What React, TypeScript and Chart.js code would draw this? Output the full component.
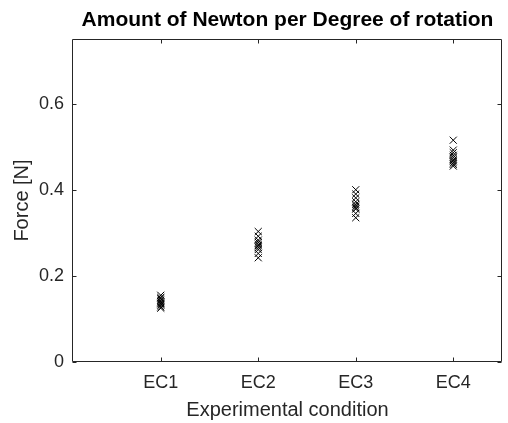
import React, { useEffect, useRef } from "react";
import { Chart, registerables } from "chart.js";

Chart.register(...registerables);

const categories = ["EC1", "EC2", "EC3", "EC4"];
const ec1 = [0.155, 0.15, 0.147, 0.143, 0.14, 0.137, 0.135, 0.132, 0.128, 0.125];
const ec2 = [0.303, 0.292, 0.283, 0.278, 0.273, 0.27, 0.266, 0.261, 0.252, 0.242];
const ec3 = [0.4, 0.39, 0.381, 0.372, 0.366, 0.362, 0.358, 0.355, 0.345, 0.335];
const ec4 = [0.515, 0.492, 0.486, 0.48, 0.475, 0.47, 0.467, 0.463, 0.459, 0.455];
const seriesValues = [ec1, ec2, ec3, ec4];
const xTickValues = [1, 2, 3, 4];
const yTickValues = [0, 0.2, 0.4, 0.6];
const yTickLabels = ["0", "0.2", "0.4", "0.6"];
const xLimits = [0.1, 4.5];
const yLimits = [0, 0.75];

const titleText = "Amount of Newton per Degree of rotation";
const xTitle = "Experimental condition";
const yTitle = "Force [N]";

const AXIS_COLOR = "#262626";
const FONT = "'Liberation Sans', Arial, Helvetica, sans-serif";

const boxPlugin = {
  id: "matlabBox",
  afterDatasetsDraw(chart: any) {
    const { ctx, chartArea, scales } = chart;
    const { left, right, top, bottom } = chartArea;
    const L = Math.round(left) - 0.5;
    const R = Math.round(right) - 0.5;
    const T = Math.round(top) + 0.5;
    const B = Math.round(bottom) - 0.5;
    const tl = 4;
    ctx.save();
    ctx.strokeStyle = AXIS_COLOR;
    ctx.lineWidth = 1;
    ctx.beginPath();
    ctx.rect(L, T, R - L, B - T);
    scales.x.ticks.forEach((t: any) => {
      const px = Math.round(scales.x.getPixelForValue(t.value)) + 0.5;
      ctx.moveTo(px, B);
      ctx.lineTo(px, B - tl);
      ctx.moveTo(px, T);
      ctx.lineTo(px, T + tl);
    });
    scales.y.ticks.forEach((t: any) => {
      const py = Math.round(scales.y.getPixelForValue(t.value)) + 0.5;
      ctx.moveTo(L, py);
      ctx.lineTo(L + tl, py);
      ctx.moveTo(R, py);
      ctx.lineTo(R - tl, py);
    });
    ctx.stroke();
    ctx.restore();
  },
};

export default function App() {
  const ref = useRef<HTMLCanvasElement | null>(null);

  useEffect(() => {
    if (!ref.current) return;
    const datasets = categories.map((c, i) => ({
      label: c,
      data: seriesValues[i].map((v) => ({ x: xTickValues[i], y: v })),
      pointStyle: "crossRot" as const,
      pointRadius: 5,
      pointBorderWidth: 1,
      borderColor: "#000000",
      backgroundColor: "#000000",
      showLine: false,
    }));

    const chart = new Chart(ref.current, {
      type: "scatter",
      data: { datasets },
      options: {
        animation: false,
        responsive: false,
        devicePixelRatio: 1,
        layout: { padding: { left: 0, right: 1, top: 0, bottom: 0 } },
        plugins: {
          legend: { display: false },
          tooltip: { enabled: false },
          title: {
            display: true,
            text: titleText,
            fullSize: false,
            color: "#000000",
            font: { family: FONT, size: 21, weight: "bold", lineHeight: 1.2 },
            padding: { top: 7.4, bottom: 6.4 },
          },
        },
        scales: {
          x: {
            type: "linear",
            min: xLimits[0],
            max: xLimits[1],
            afterBuildTicks: (scale: any) => {
              scale.ticks = xTickValues.map((v) => ({ value: v }));
            },
            afterFit: (scale: any) => {
              scale.height = 61;
            },
            grid: { display: false, drawTicks: false },
            border: { display: false },
            ticks: {
              color: AXIS_COLOR,
              font: { family: FONT, size: 18 },
              padding: 10,
              autoSkip: false,
              maxRotation: 0,
              callback: (v: any) => {
                const idx = xTickValues.indexOf(Number(v));
                return idx >= 0 ? categories[idx] : "";
              },
            },
            title: {
              display: true,
              text: xTitle,
              color: AXIS_COLOR,
              font: { family: FONT, size: 20 },
              padding: { top: 0, bottom: 1 },
            },
          },
          y: {
            type: "linear",
            min: yLimits[0],
            max: yLimits[1],
            afterBuildTicks: (scale: any) => {
              scale.ticks = yTickValues.map((v) => ({ value: v }));
            },
            afterFit: (scale: any) => {
              scale.width = 73;
            },
            grid: { display: false, drawTicks: false },
            border: { display: false },
            ticks: {
              color: AXIS_COLOR,
              font: { family: FONT, size: 18 },
              padding: 9,
              callback: (v: any) => {
                const idx = yTickValues.indexOf(Number(v));
                return idx >= 0 ? yTickLabels[idx] : "";
              },
            },
            title: {
              display: true,
              text: yTitle,
              color: AXIS_COLOR,
              font: { family: FONT, size: 20 },
              padding: { top: 10, bottom: 0 },
            },
          },
        },
      },
      plugins: [boxPlugin],
    });
    return () => chart.destroy();
  }, []);

  return (
    <div style={{ position: "fixed", left: 0, top: 0, width: 508, height: 423, background: "#ffffff" }}>
      <canvas ref={ref} width={508} height={423} style={{ width: 508, height: 423, display: "block" }} />
    </div>
  );
}
